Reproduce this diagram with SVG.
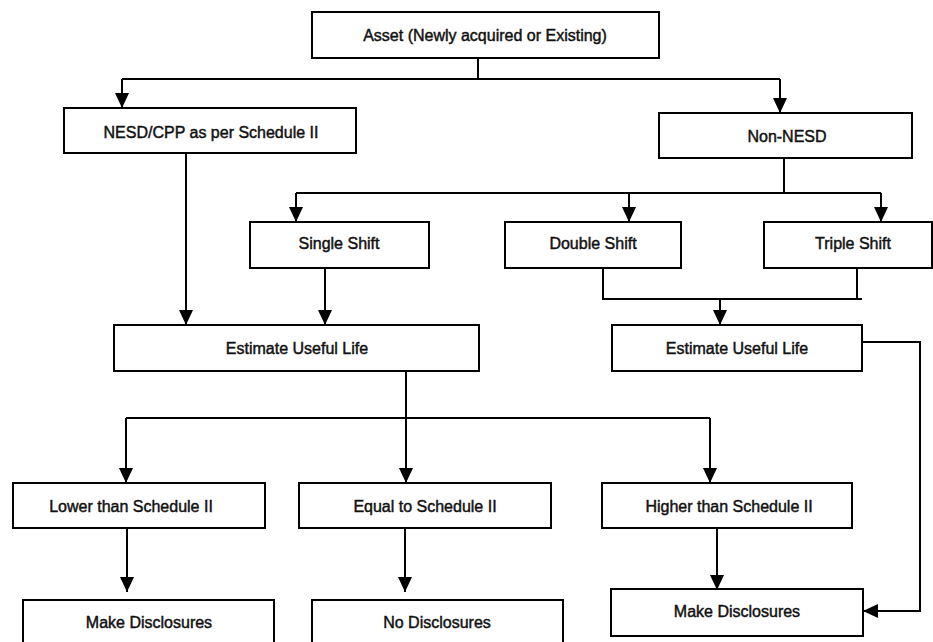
<svg xmlns="http://www.w3.org/2000/svg" width="933" height="642" viewBox="0 0 933 642">
<defs>
<marker id="arr" markerWidth="15" markerHeight="14" refX="15" refY="7" orient="auto" markerUnits="userSpaceOnUse">
<path d="M0,0 L15,7 L0,14 z" fill="#000"/>
</marker>
<style>
.box{fill:#fff;stroke:#000;stroke-width:2}
.t{font-family:"Liberation Sans",Arial,sans-serif;font-size:16px;fill:#111;stroke:#111;stroke-width:0.45;text-anchor:middle}
.c{fill:none;stroke:#000;stroke-width:2}
.a{marker-end:url(#arr)}
</style>
</defs>
<rect width="933" height="642" fill="#fff"/>
<g id="connectors">
<path class="c" d="M478 58 V79 M122 79 H780"/>
<path class="c a" d="M122 79 V108"/>
<path class="c a" d="M780 79 V113"/>
<path class="c a" d="M186 153 V325"/>
<path class="c" d="M784 158 V193 M296 193 H881"/>
<path class="c a" d="M296 193 V222"/>
<path class="c a" d="M629 193 V222"/>
<path class="c a" d="M881 193 V222"/>
<path class="c a" d="M325 268 V325"/>
<path class="c" d="M603 268 V299 H862 M857 268 V299"/>
<path class="c a" d="M720 299 V325"/>
<path class="c" d="M406 371 V418 M126 418 H710"/>
<path class="c a" d="M126 418 V483"/>
<path class="c a" d="M406 418 V483"/>
<path class="c a" d="M710 418 V483"/>
<path class="c a" d="M127 528 V592"/>
<path class="c a" d="M405 528 V592"/>
<path class="c a" d="M717 528 V590"/>
<path class="c a" d="M862 342 H920 V611 H863"/>
</g>
<g id="asset"><rect class="box" x="312" y="12" width="347" height="46"/><text class="t" x="485" y="41">Asset (Newly acquired or Existing)</text></g>
<g id="nesd"><rect class="box" x="64" y="108" width="292" height="45"/><text class="t" x="211" y="138">NESD/CPP as per Schedule II</text></g>
<g id="non-nesd"><rect class="box" x="659" y="113" width="253" height="45"/><text class="t" x="787" y="142">Non-NESD</text></g>
<g id="single"><rect class="box" x="250" y="222" width="179" height="46"/><text class="t" x="339" y="249">Single Shift</text></g>
<g id="double"><rect class="box" x="505" y="222" width="176" height="46"/><text class="t" x="593" y="249">Double Shift</text></g>
<g id="triple"><rect class="box" x="764" y="222" width="168" height="46"/><text class="t" x="853" y="249">Triple Shift</text></g>
<g id="estimate1"><rect class="box" x="114" y="325" width="365" height="46"/><text class="t" x="297" y="354">Estimate Useful Life</text></g>
<g id="estimate2"><rect class="box" x="612" y="325" width="250" height="46"/><text class="t" x="737" y="354">Estimate Useful Life</text></g>
<g id="lower"><rect class="box" x="13" y="483" width="252" height="45"/><text class="t" x="131" y="512">Lower than Schedule II</text></g>
<g id="equal"><rect class="box" x="299" y="483" width="252" height="45"/><text class="t" x="425" y="512">Equal to Schedule II</text></g>
<g id="higher"><rect class="box" x="602" y="483" width="250" height="45"/><text class="t" x="729" y="512">Higher than Schedule II</text></g>
<g id="make1"><rect class="box" x="23" y="600" width="251" height="50"/><text class="t" x="149" y="628">Make Disclosures</text></g>
<g id="nodisc"><rect class="box" x="312" y="600" width="251" height="50"/><text class="t" x="437" y="628">No Disclosures</text></g>
<g id="make2"><rect class="box" x="611" y="589" width="252" height="47"/><text class="t" x="737" y="617">Make Disclosures</text></g>
</svg>
